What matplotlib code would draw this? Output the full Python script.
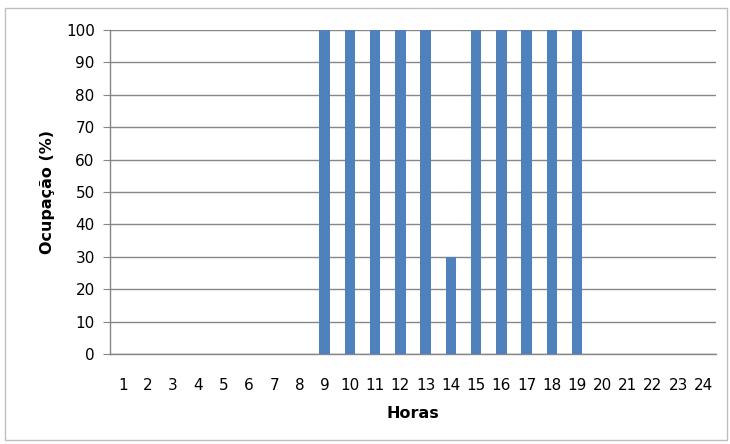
import matplotlib
matplotlib.use("Agg")
import matplotlib.pyplot as plt
from matplotlib.patches import Rectangle

hours = [str(h) for h in range(1, 25)]
occupancy = [0, 0, 0, 0, 0, 0, 0, 0, 100, 100, 100, 100, 100, 30,
             100, 100, 100, 100, 100, 0, 0, 0, 0, 0]
y_ticks = list(range(0, 101, 10))

plt.rcParams['font.family'] = ['DejaVu Sans']
fig = plt.figure(figsize=(7.3, 4.44), dpi=100)
fig.patches.append(Rectangle((5/730, 1 - 440/444), 722/730, 432/444,
                             transform=fig.transFigure, fill=False,
                             edgecolor='#BFBFBF', linewidth=1))
ax = fig.add_axes([110/730, 1 - 354/444, 606/730, 324/444])

x = list(range(len(hours)))
ax.bar(x, occupancy, width=0.42, color='#4F81BD', zorder=3)
ax.set_xlim(-0.5, len(hours) - 0.5)
ax.set_ylim(0, 100)
ax.set_yticks(y_ticks)
ax.set_xticks(x)
ax.set_xticklabels(hours)
ax.yaxis.grid(True, color='#868686', linewidth=1)
ax.set_axisbelow(True)
for s in ['top', 'right']:
    ax.spines[s].set_visible(False)
for s in ['left', 'bottom']:
    ax.spines[s].set_color('#868686')
    ax.spines[s].set_linewidth(1)
ax.tick_params(axis='y', length=5, color='#868686', labelsize=11, pad=6)
ax.tick_params(axis='x', length=0, labelsize=11, pad=17)
ax.set_xlabel('Horas', fontsize=11.5, fontweight='bold', labelpad=10)
ax.set_ylabel('Ocupação (%)', fontsize=11.5, fontweight='bold', labelpad=8)

fig.savefig('out.png', dpi=100)
